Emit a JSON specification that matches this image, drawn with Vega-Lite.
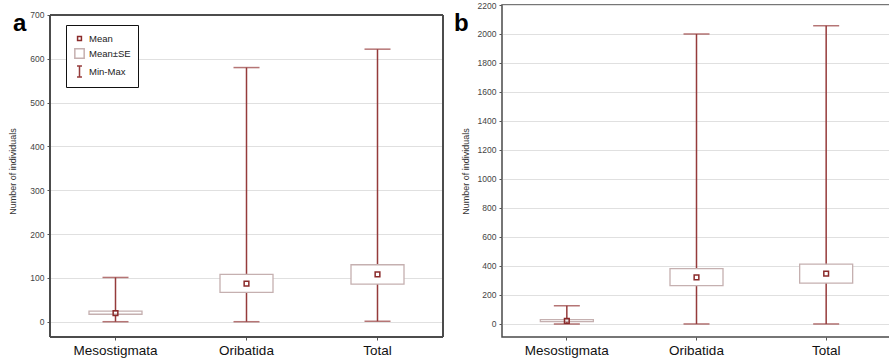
{
  "$schema": "https://vega.github.io/schema/vega-lite/v6.json",
  "padding": {"left": 8, "top": 0, "right": 0, "bottom": 0},
  "spacing": 9,
  "config": {
    "font": "Liberation Sans",
    "view": {"stroke": "#4a4a4a", "strokeWidth": 1.5},
    "axis": {"domain": false, "tickColor": "#555", "tickSize": 3, "labelFont": "Liberation Sans", "titleFont": "Liberation Sans"}
  },
  "hconcat": [
    {
      "width": 393,
      "height": 332,
      "view": {"stroke": null},
      "title": {"text": "a", "anchor": "start", "frame": "group", "fontSize": 24, "fontWeight": "bold", "color": "#000", "baseline": "alphabetic", "offset": 0, "dx": -37, "dy": 50},
      "data": {"values": [
        {"taxon": "Mesostigmata", "min": 0, "max": 101, "lo": 17, "hi": 24, "mean": 19.5},
        {"taxon": "Oribatida", "min": 0, "max": 580, "lo": 67, "hi": 108, "mean": 87},
        {"taxon": "Total", "min": 1, "max": 622, "lo": 86, "hi": 130, "mean": 108}
      ]},
      "layer": [
        {
          "mark": {"type": "rule", "color": "#953b3b", "strokeWidth": 1.5},
          "encoding": {
            "x": {"field": "taxon", "type": "nominal", "scale": {"paddingInner": 0, "paddingOuter": 0},
              "axis": {"orient": "bottom", "title": null, "labelAngle": 0, "labelFontSize": 13.5, "labelColor": "#111", "labelPadding": 3, "tickSize": 3, "grid": false}},
            "y": {"field": "min", "type": "quantitative", "scale": {"domain": [-34.9, 722.8], "nice": false, "zero": false},
              "axis": {"title": "Number of individuals", "values": [0, 100, 200, 300, 400, 500, 600, 700], "tickCount": 30, "format": "d", "labelOverlap": false, "grid": true, "gridColor": "#e0e0e0", "gridWidth": 1, "labelFontSize": 8.5, "labelColor": "#444", "labelPadding": 3, "tickSize": 3, "titleFontSize": 9, "titleFontWeight": "normal", "titleColor": "#333", "titlePadding": 12, "minExtent": 0}},
            "y2": {"field": "max"}
          }
        },
        {
          "mark": {"type": "rule", "color": "#4a4a4a", "strokeWidth": 1.5},
          "encoding": {"y": {"datum": 700, "type": "quantitative"}}
        },
        {
          "mark": {"type": "rule", "color": "#4a4a4a", "strokeWidth": 1.5},
          "encoding": {"y": {"datum": -34.9, "type": "quantitative"}}
        },
        {
          "mark": {"type": "rule", "color": "#4a4a4a", "strokeWidth": 1.5},
          "encoding": {
            "x": {"datum": "Mesostigmata", "type": "nominal", "bandPosition": 0},
            "y": {"datum": -34.9, "type": "quantitative"},
            "y2": {"datum": 700}
          }
        },
        {
          "mark": {"type": "rule", "color": "#4a4a4a", "strokeWidth": 1.5},
          "encoding": {
            "x": {"datum": "Total", "type": "nominal", "bandPosition": 1},
            "y": {"datum": -34.9, "type": "quantitative"},
            "y2": {"datum": 700}
          }
        },
        {
          "mark": {"type": "tick", "color": "#953b3b", "size": 26, "thickness": 1.5, "orient": "horizontal"},
          "encoding": {
            "x": {"field": "taxon", "type": "nominal"},
            "y": {"field": "max", "type": "quantitative"}
          }
        },
        {
          "mark": {"type": "tick", "color": "#953b3b", "size": 26, "thickness": 1.5, "orient": "horizontal"},
          "encoding": {
            "x": {"field": "taxon", "type": "nominal"},
            "y": {"field": "min", "type": "quantitative"}
          }
        },
        {
          "mark": {"type": "bar", "width": 53, "fill": "white", "stroke": "#c5b0b0", "strokeWidth": 1.3},
          "encoding": {
            "x": {"field": "taxon", "type": "nominal"},
            "y": {"field": "lo", "type": "quantitative"},
            "y2": {"field": "hi"}
          }
        },
        {
          "mark": {"type": "point", "shape": "square", "size": 22, "filled": false, "color": "#8a2a2a", "strokeWidth": 1.5, "opacity": 1},
          "encoding": {
            "x": {"field": "taxon", "type": "nominal"},
            "y": {"field": "mean", "type": "quantitative"}
          }
        },
        {
          "data": {"values": [{"item": "Mean"}, {"item": "Mean±SE"}, {"item": "Min-Max"}]},
          "mark": {"type": "point", "filled": false, "clip": true, "strokeWidth": 1.5, "opacity": 1},
          "encoding": {
            "x": {"datum": "Oribatida", "type": "nominal"},
            "y": {"datum": -1000, "type": "quantitative"},
            "color": {"field": "item", "type": "nominal",
              "scale": {"domain": ["Mean", "Mean±SE", "Min-Max"], "range": ["#8a2a2a", "#c5b0b0", "#953b3b"]},
              "legend": {"title": null, "orient": "none", "legendX": 16, "legendY": 20, "padding": 7, "rowPadding": 1, "symbolSize": 121, "symbolStrokeWidth": 1.5, "labelFontSize": 9.5, "labelColor": "#222", "labelOffset": 3, "strokeColor": "#111", "fillColor": "white", "encode": {"legend": {"update": {"strokeWidth": {"value": 2}}}}}},
            "shape": {"field": "item", "type": "nominal",
              "scale": {"domain": ["Mean", "Mean±SE", "Min-Max"], "range": ["M-0.35,-0.35H0.35V0.35H-0.35Z", "M-0.85,-0.85H0.85V0.85H-0.85Z", "M-0.45,-1H0.45M0,-1V1M-0.45,1H0.45"]},
              "legend": {"title": null, "orient": "none", "legendX": 16, "legendY": 20, "padding": 7, "rowPadding": 1, "symbolSize": 121, "symbolStrokeWidth": 1.5, "labelFontSize": 9.5, "labelColor": "#222", "labelOffset": 3, "strokeColor": "#111", "fillColor": "white", "encode": {"legend": {"update": {"strokeWidth": {"value": 2}}}}}}
          }
        }
      ]
    },
    {
      "width": 389,
      "height": 332,
      "title": {"text": "b", "anchor": "start", "frame": "group", "fontSize": 24, "fontWeight": "bold", "color": "#000", "baseline": "alphabetic", "offset": 0, "dx": -48, "dy": 54},
      "data": {"values": [
        {"taxon": "Mesostigmata", "min": 0, "max": 125, "lo": 16, "hi": 30, "mean": 21},
        {"taxon": "Oribatida", "min": 0, "max": 2000, "lo": 264, "hi": 382, "mean": 321},
        {"taxon": "Total", "min": 0, "max": 2057, "lo": 282, "hi": 412, "mean": 347}
      ]},
      "layer": [
        {
          "mark": {"type": "rule", "color": "#953b3b", "strokeWidth": 1.5},
          "encoding": {
            "x": {"field": "taxon", "type": "nominal", "scale": {"paddingInner": 0, "paddingOuter": 0},
              "axis": {"orient": "bottom", "title": null, "labelAngle": 0, "labelFontSize": 13.5, "labelColor": "#111", "labelPadding": 3, "tickSize": 3, "grid": false}},
            "y": {"field": "min", "type": "quantitative", "scale": {"domain": [-90, 2200], "nice": false, "zero": false},
              "axis": {"title": "Number of individuals", "values": [0, 200, 400, 600, 800, 1000, 1200, 1400, 1600, 1800, 2000, 2200], "tickCount": 30, "format": "d", "labelOverlap": false, "grid": true, "gridColor": "#e0e0e0", "gridWidth": 1, "labelFontSize": 8.5, "labelColor": "#444", "labelPadding": 3, "tickSize": 3, "titleFontSize": 9, "titleFontWeight": "normal", "titleColor": "#333", "titlePadding": 7, "minExtent": 0}},
            "y2": {"field": "max"}
          }
        },
        {
          "mark": {"type": "tick", "color": "#953b3b", "size": 26, "thickness": 1.5, "orient": "horizontal"},
          "encoding": {
            "x": {"field": "taxon", "type": "nominal"},
            "y": {"field": "max", "type": "quantitative"}
          }
        },
        {
          "mark": {"type": "tick", "color": "#953b3b", "size": 26, "thickness": 1.5, "orient": "horizontal"},
          "encoding": {
            "x": {"field": "taxon", "type": "nominal"},
            "y": {"field": "min", "type": "quantitative"}
          }
        },
        {
          "mark": {"type": "bar", "width": 53, "fill": "white", "stroke": "#c5b0b0", "strokeWidth": 1.3},
          "encoding": {
            "x": {"field": "taxon", "type": "nominal"},
            "y": {"field": "lo", "type": "quantitative"},
            "y2": {"field": "hi"}
          }
        },
        {
          "mark": {"type": "point", "shape": "square", "size": 22, "filled": false, "color": "#8a2a2a", "strokeWidth": 1.5, "opacity": 1},
          "encoding": {
            "x": {"field": "taxon", "type": "nominal"},
            "y": {"field": "mean", "type": "quantitative"}
          }
        }
      ]
    }
  ]
}
